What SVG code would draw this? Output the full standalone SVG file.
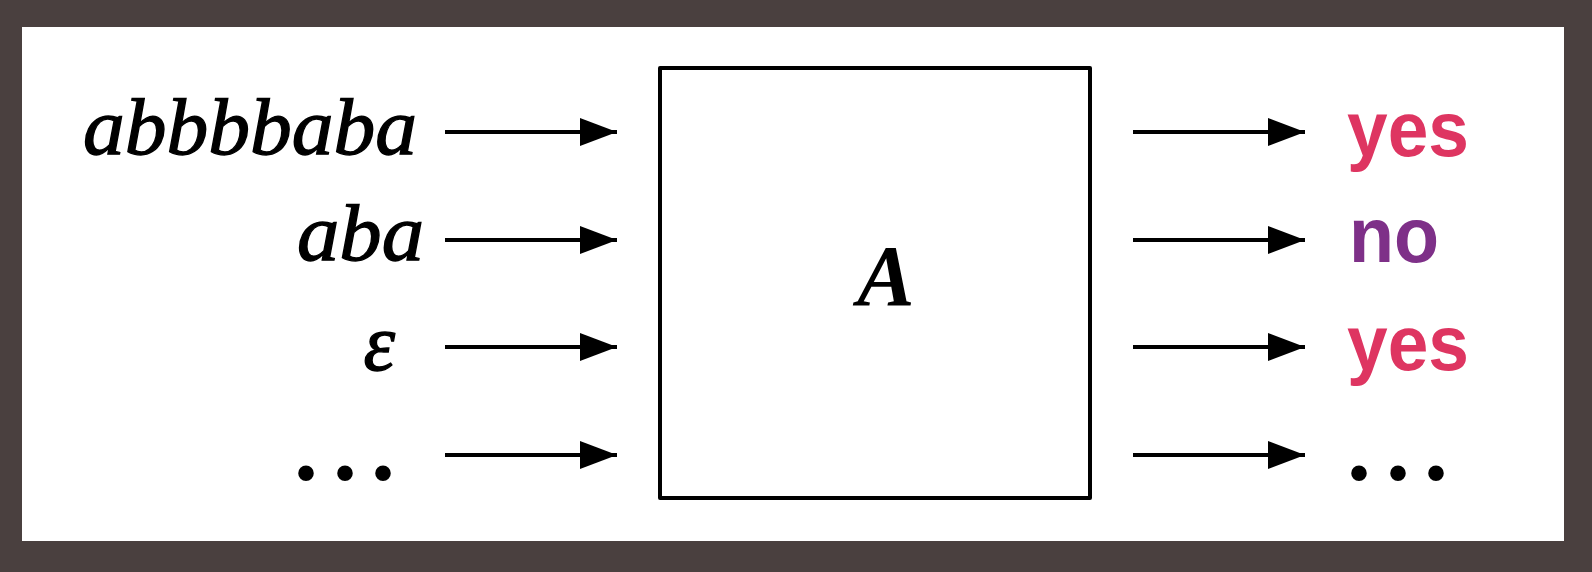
<svg xmlns="http://www.w3.org/2000/svg" width="1592" height="572" viewBox="0 0 1592 572">
<style>
.math{font-family:"Liberation Serif","DejaVu Serif",serif;font-style:italic;fill:#000;stroke:#000;stroke-width:1.3}
.ans{font-family:"Liberation Sans",Arial,sans-serif;font-weight:bold}
.yes{fill:#de3561}
.no{fill:#7e3088}
.dots{font-family:"Liberation Serif",serif;font-weight:bold;font-size:96px;fill:#000}
.conn line{stroke:#000;stroke-width:4;marker-end:url(#arr)}
</style>
<defs>
<marker id="arr" markerUnits="userSpaceOnUse" markerWidth="40" markerHeight="30" refX="37" refY="14" orient="auto" viewBox="0 0 40 30">
<path d="M0,0 L37,14 L0,28 Z" fill="#000"/>
</marker>
</defs>
<rect x="0" y="0" width="1592" height="572" fill="#4a403f"/>
<rect x="22" y="27" width="1542" height="514" fill="#fff"/>
<g id="inputs">
<text class="math" x="417" y="154" font-size="80" text-anchor="end" textLength="334" lengthAdjust="spacingAndGlyphs">abbbbaba</text>
<text class="math" x="424" y="260" font-size="80" text-anchor="end" textLength="127" lengthAdjust="spacingAndGlyphs">aba</text>
<text class="math" x="395" y="370" font-size="80" text-anchor="end">ε</text>
<text class="dots" x="294 333 371" y="480">...</text>
</g>
<g id="node-A">
<rect x="660" y="68" width="430" height="430" fill="none" stroke="#000" stroke-width="4" stroke-linejoin="round"/>
<text x="886" y="305" font-family="'Liberation Serif',serif" font-style="italic" font-weight="bold" font-size="86" text-anchor="middle">A</text>
</g>
<g id="outputs">
<text class="ans yes" x="1347" y="156" font-size="77" textLength="122" lengthAdjust="spacingAndGlyphs">yes</text>
<text class="ans no" x="1349" y="262" font-size="77" textLength="90" lengthAdjust="spacingAndGlyphs">no</text>
<text class="ans yes" x="1347" y="370" font-size="77" textLength="122" lengthAdjust="spacingAndGlyphs">yes</text>
<text class="dots" x="1347 1386 1424" y="480">...</text>
</g>
<g id="connectors" class="conn">
<line x1="445" y1="132" x2="617" y2="132"/>
<line x1="445" y1="240" x2="617" y2="240"/>
<line x1="445" y1="347" x2="617" y2="347"/>
<line x1="445" y1="455" x2="617" y2="455"/>
<line x1="1133" y1="132" x2="1305" y2="132"/>
<line x1="1133" y1="240" x2="1305" y2="240"/>
<line x1="1133" y1="347" x2="1305" y2="347"/>
<line x1="1133" y1="455" x2="1305" y2="455"/>
</g>
</svg>
